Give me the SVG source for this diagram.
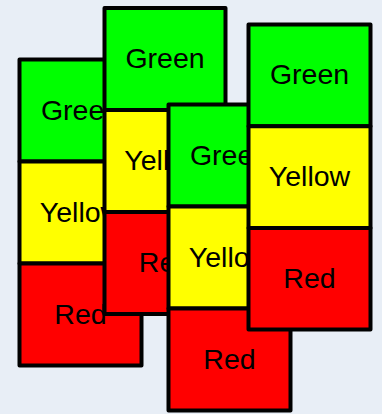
<svg xmlns="http://www.w3.org/2000/svg" width="382" height="414" viewBox="0 0 382 414">
<style>
.seg{stroke:#000;stroke-width:4;stroke-linejoin:round}
.g{fill:#00ff00}.y{fill:#ffff00}.r{fill:#ff0000}
.t{font-family:"Liberation Sans",Arial,sans-serif;font-size:28.5px;fill:#000;text-anchor:middle}
</style>
<rect x="0" y="0" width="382" height="414" fill="#e8eef6"/>
<g id="connectors"/>
<g id="stack1" transform="translate(19.5,59.5)">
<rect class="seg g" x="0" y="0" width="122" height="102"/>
<text class="t" x="61" y="60">Green</text>
<rect class="seg y" x="0" y="102" width="122" height="102"/>
<text class="t" x="61" y="162">Yellow</text>
<rect class="seg r" x="0" y="204" width="122" height="102"/>
<text class="t" x="61" y="264">Red</text>
</g>
<g id="stack2" transform="translate(104.5,8)">
<rect class="seg g" x="0" y="0" width="121" height="102"/>
<text class="t" x="60.5" y="60">Green</text>
<rect class="seg y" x="0" y="102" width="121" height="102"/>
<text class="t" x="60.5" y="162">Yellow</text>
<rect class="seg r" x="0" y="204" width="121" height="102"/>
<text class="t" x="60.5" y="264">Red</text>
</g>
<g id="stack3" transform="translate(168.5,104.5)">
<rect class="seg g" x="0" y="0" width="122" height="102"/>
<text class="t" x="61" y="60">Green</text>
<rect class="seg y" x="0" y="102" width="122" height="102"/>
<text class="t" x="61" y="162">Yellow</text>
<rect class="seg r" x="0" y="204" width="122" height="102"/>
<text class="t" x="61" y="264">Red</text>
</g>
<g id="stack4" transform="translate(248.5,24.5)">
<rect class="seg g" x="0" y="0" width="122" height="101.7"/>
<text class="t" x="61" y="59.7">Green</text>
<rect class="seg y" x="0" y="101.7" width="122" height="101.7"/>
<text class="t" x="61" y="161.3">Yellow</text>
<rect class="seg r" x="0" y="203.4" width="122" height="101.7"/>
<text class="t" x="61" y="263">Red</text>
</g>
</svg>
